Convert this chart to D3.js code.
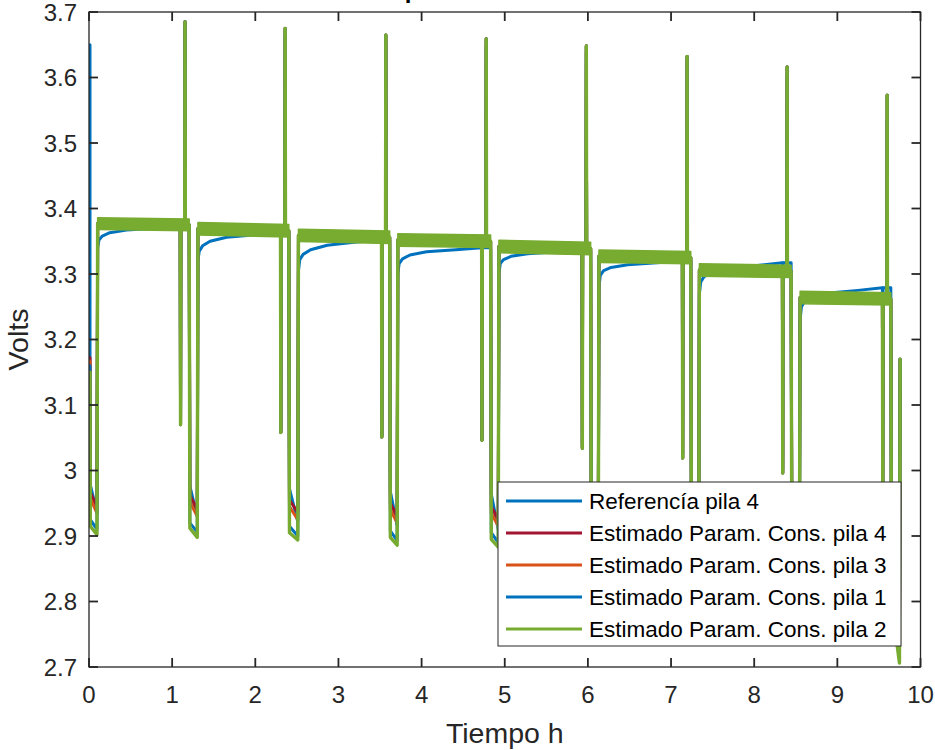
<!DOCTYPE html>
<html>
<head>
<meta charset="utf-8">
<script src="https://cdn.jsdelivr.net/npm/d3@7/dist/d3.min.js"></script>
<style>
  body { margin: 0; background: #fff; }
  text { font-family: "Liberation Sans", Arial, Helvetica, sans-serif; }
</style>
</head>
<body>
<div id="main"></div>
<script>
/*********************************************************
 * Data
 *********************************************************/
const seriesNames = [
  'Referencía pila 4',
  'Estimado Param. Cons. pila 4',
  'Estimado Param. Cons. pila 3',
  'Estimado Param. Cons. pila 1',
  'Estimado Param. Cons. pila 2'
];
const seriesColors = ['#0072BD', '#A2142F', '#D95319', '#0072BD', '#77AC30'];

const xTickValues = [0, 1, 2, 3, 4, 5, 6, 7, 8, 9, 10];
const yTickValues = [2.7, 2.8, 2.9, 3.0, 3.1, 3.2, 3.3, 3.4, 3.5, 3.6, 3.7];
const yTickLabels = ['2.7', '2.8', '2.9', '3', '3.1', '3.2', '3.3', '3.4', '3.5', '3.6', '3.7'];

// event times in hours
const startT = 0.012;
const dischargeStartT = [0.016, 1.209, 2.407, 3.620, 4.834, 6.037, 7.241, 8.448, 9.647];
const dischargeEndT   = [0.100, 1.306, 2.515, 3.710, 4.926, 6.129, 7.337, 8.548, 9.751];
const spikeDownT = [1.101, 2.307, 3.522, 4.726, 5.933, 7.140, 8.343, 9.546];
const spikeUpT   = [1.155, 2.359, 3.570, 4.777, 5.981, 7.193, 8.396, 9.599];

// values at the first sample (one row per series)
const startV = [[3.650, 3.165], [3.172], [3.167], [3.160], [3.150]];

// voltage just after the start / just before the end of each discharge
const dipStartV = [
  [2.978, 2.976, 2.972, 2.968, 2.964, 2.960, 2.955, 2.950, 2.900],
  [2.966, 2.962, 2.955, 2.950, 2.945, 2.940, 2.935, 2.930, 2.880],
  [2.957, 2.952, 2.945, 2.940, 2.935, 2.930, 2.925, 2.920, 2.870],
  [2.925, 2.920, 2.915, 2.908, 2.905, 2.900, 2.895, 2.890, 2.820],
  [2.915, 2.912, 2.905, 2.898, 2.895, 2.890, 2.885, 2.880, 2.800]
];
const dipEndV = [
  [2.935, 2.930, 2.922, 2.916, 2.910, 2.905, 2.900, 2.895, 2.760],
  [2.945, 2.940, 2.936, 2.930, 2.925, 2.920, 2.915, 2.910, 2.740],
  [2.935, 2.930, 2.925, 2.920, 2.915, 2.910, 2.905, 2.900, 2.730],
  [2.910, 2.906, 2.900, 2.893, 2.890, 2.885, 2.880, 2.875, 2.715],
  [2.902, 2.898, 2.894, 2.886, 2.883, 2.878, 2.873, 2.868, 2.706]
];
const finalV = [3.170, 3.170, 3.170, 3.170, 3.170];

// rest plateaus (estimates)
const plateauStartV = [3.377, 3.369, 3.359, 3.352, 3.342, 3.327, 3.306, 3.264];
const plateauEndV   = [3.375, 3.366, 3.356, 3.350, 3.339, 3.325, 3.304, 3.262];
const greenBandHalf = [0.009, 0.0095, 0.0095, 0.0095, 0.0095, 0.0095, 0.0095, 0.0095];

// reference recovery after each discharge
const refRiseOffsets = [0.004, 0.02, 0.06, 0.15, 0.35, 0.7];
const refRiseV = [
  [3.340, 3.352, 3.358, 3.363, 3.367, 3.370],
  [3.320, 3.335, 3.343, 3.350, 3.356, 3.360],
  [3.305, 3.322, 3.330, 3.337, 3.344, 3.349],
  [3.300, 3.316, 3.323, 3.329, 3.334, 3.337],
  [3.300, 3.316, 3.322, 3.327, 3.331, 3.334],
  [3.280, 3.298, 3.305, 3.310, 3.314, 3.317],
  [3.270, 3.288, 3.296, 3.303, 3.309, 3.313],
  [3.230, 3.250, 3.258, 3.265, 3.271, 3.275]
];
const refPlateauEndV = [3.372, 3.362, 3.352, 3.340, 3.336, 3.320, 3.317, 3.279];

// short pulses inside each plateau
const downSpikeV = [3.070, 3.058, 3.051, 3.046, 3.034, 3.019, 2.996, 2.975];
const upSpikeV   = [3.685, 3.675, 3.665, 3.659, 3.648, 3.632, 3.616, 3.573];
const refDownSpikeV = [3.075, 3.062, 3.055, 3.050, 3.040, 3.025, 3.002, 2.980];
const refUpSpikeV   = [3.675, 3.665, 3.655, 3.648, 3.638, 3.622, 3.605, 3.535];


/*********************************************************
 * Layout
 *********************************************************/
const svgWidth = 935;
const svgHeight = 750;
const plot = { l: 89, r: 920.5, t: 12, b: 667 };
const axisColor = '#262626';

const svg = d3.select('#main')
  .append('svg')
  .attr('width', svgWidth)
  .attr('height', svgHeight);

const x = d3.scaleLinear().domain([0, 10]).range([plot.l, plot.r]);
const y = d3.scaleLinear().domain([2.7, 3.7]).range([plot.b, plot.t]);


/*********************************************************
 * Build the point lists for each series
 *********************************************************/
function buildSeries(i) {
  const pts = [];
  const isRef = i === 0;
  const eps = 0.004;
  startV[i].forEach(v => pts.push([startT, v]));
  for (let k = 0; k < dischargeStartT.length; k++) {
    const tC = dischargeStartT[k];
    const tD = dischargeEndT[k];
    if (k > 0) {
      const lvl = isRef ? refPlateauEndV[k - 1] : plateauEndV[k - 1];
      pts.push([tC - eps, lvl]);
    }
    pts.push([tC + (k > 0 ? eps : 0), dipStartV[i][k]]);
    pts.push([tD - eps, dipEndV[i][k]]);
    if (k === dischargeStartT.length - 1) {
      pts.push([tD + eps, finalV[i]]);
      break;
    }
    let lvl;
    if (isRef) {
      refRiseOffsets.forEach((o, j) => pts.push([tD + o, refRiseV[k][j]]));
      lvl = refPlateauEndV[k];
    } else {
      pts.push([tD + eps, plateauStartV[k]]);
      lvl = plateauEndV[k];
    }
    const dn = isRef ? refDownSpikeV[k] : downSpikeV[k];
    const up = isRef ? refUpSpikeV[k] : upSpikeV[k];
    pts.push([spikeDownT[k] - eps, lvl]);
    pts.push([spikeDownT[k], dn]);
    pts.push([spikeDownT[k] + eps, lvl]);
    pts.push([spikeUpT[k] - eps, lvl]);
    pts.push([spikeUpT[k], up]);
    pts.push([spikeUpT[k] + eps, lvl]);
  }
  return pts;
}

const allSeries = seriesNames.map((name, i) => ({
  name: name,
  color: seriesColors[i],
  points: buildSeries(i)
}));

// noisy band of the green estimate on each plateau
const bands = plateauStartV.map((v, k) => ([
  { t: dischargeEndT[k] + 0.004, lo: v - greenBandHalf[k], hi: v + greenBandHalf[k] },
  { t: dischargeStartT[k + 1] - 0.004, lo: plateauEndV[k] - greenBandHalf[k], hi: plateauEndV[k] + greenBandHalf[k] }
]));


/*********************************************************
 * Draw
 *********************************************************/
svg.append('clipPath')
  .attr('id', 'plot-clip')
  .append('rect')
  .attr('x', plot.l)
  .attr('y', plot.t)
  .attr('width', plot.r - plot.l)
  .attr('height', plot.b - plot.t);

const lines = svg.append('g').attr('clip-path', 'url(#plot-clip)');

const line = d3.line()
  .x(d => x(d[0]))
  .y(d => y(d[1]));

lines.selectAll('.series')
  .data(allSeries)
  .enter()
  .append('path')
  .attr('class', 'series')
  .attr('d', d => line(d.points))
  .attr('fill', 'none')
  .attr('stroke', d => d.color)
  .attr('stroke-width', (d, i) => i === 4 ? 3.4 : 3)
  .attr('stroke-linejoin', 'round')
  .attr('stroke-linecap', 'round');

const band = d3.area()
  .x(d => x(d.t))
  .y0(d => y(d.lo))
  .y1(d => y(d.hi));

lines.selectAll('.band')
  .data(bands)
  .enter()
  .append('path')
  .attr('class', 'band')
  .attr('d', band)
  .attr('fill', seriesColors[4])
  .attr('stroke', seriesColors[4])
  .attr('stroke-width', 1.5)
  .attr('stroke-linejoin', 'round');

// title (sits above the visible area, as in the original)
svg.append('text')
  .attr('x', (plot.l + plot.r) / 2)
  .attr('y', -2.5)
  .attr('text-anchor', 'middle')
  .attr('font-size', 24)
  .attr('font-weight', 'bold')
  .attr('fill', '#000')
  .text('Comparación de tensiones');

// axes (box with ticks on all four sides)
const tickLen = 9;
const axes = svg.append('g');

axes.append('rect')
  .attr('x', plot.l)
  .attr('y', plot.t)
  .attr('width', plot.r - plot.l)
  .attr('height', plot.b - plot.t)
  .attr('fill', 'none')
  .attr('stroke', axisColor)
  .attr('stroke-width', 1.3);

xTickValues.forEach(v => {
  axes.append('line')
    .attr('x1', x(v)).attr('x2', x(v))
    .attr('y1', plot.b).attr('y2', plot.b - tickLen)
    .attr('stroke', axisColor).attr('stroke-width', 1.8);
  axes.append('line')
    .attr('x1', x(v)).attr('x2', x(v))
    .attr('y1', plot.t).attr('y2', plot.t + tickLen)
    .attr('stroke', axisColor).attr('stroke-width', 1.8);
  axes.append('text')
    .attr('x', x(v))
    .attr('y', 703)
    .attr('text-anchor', 'middle')
    .attr('font-size', 24)
    .attr('fill', axisColor)
    .text(v);
});

yTickValues.forEach((v, i) => {
  axes.append('line')
    .attr('x1', plot.l).attr('x2', plot.l + tickLen)
    .attr('y1', y(v)).attr('y2', y(v))
    .attr('stroke', axisColor).attr('stroke-width', 1.8);
  axes.append('line')
    .attr('x1', plot.r).attr('x2', plot.r - tickLen)
    .attr('y1', y(v)).attr('y2', y(v))
    .attr('stroke', axisColor).attr('stroke-width', 1.8);
  axes.append('text')
    .attr('x', 77)
    .attr('y', y(v))
    .attr('dy', '0.36em')
    .attr('text-anchor', 'end')
    .attr('font-size', 24)
    .attr('fill', axisColor)
    .text(yTickLabels[i]);
});

// axis labels
svg.append('text')
  .attr('x', (plot.l + plot.r) / 2)
  .attr('y', 743)
  .attr('text-anchor', 'middle')
  .attr('font-size', 28.5)
  .attr('fill', axisColor)
  .text('Tiempo h');

svg.append('text')
  .attr('transform', `translate(28, ${(plot.t + plot.b) / 2}) rotate(-90)`)
  .attr('text-anchor', 'middle')
  .attr('font-size', 28.5)
  .attr('fill', axisColor)
  .text('Volts');

// legend
const legend = { x: 498, y: 482, w: 403, h: 164, rowH: 32, first: 19 };
const lg = svg.append('g').attr('transform', `translate(${legend.x}, ${legend.y})`);

lg.append('rect')
  .attr('width', legend.w)
  .attr('height', legend.h)
  .attr('fill', '#fff')
  .attr('stroke', axisColor)
  .attr('stroke-width', 1);

const rows = lg.selectAll('.row')
  .data(allSeries)
  .enter()
  .append('g')
  .attr('class', 'row')
  .attr('transform', (d, i) => `translate(0, ${legend.first + i * legend.rowH})`);

rows.append('line')
  .attr('x1', 8).attr('x2', 84)
  .attr('y1', 0).attr('y2', 0)
  .attr('stroke', d => d.color)
  .attr('stroke-width', 3);

rows.append('text')
  .attr('x', 91)
  .attr('y', 0)
  .attr('dy', '0.36em')
  .attr('font-size', 22.5)
  .attr('fill', '#000')
  .text(d => d.name);
</script>
</body>
</html>
